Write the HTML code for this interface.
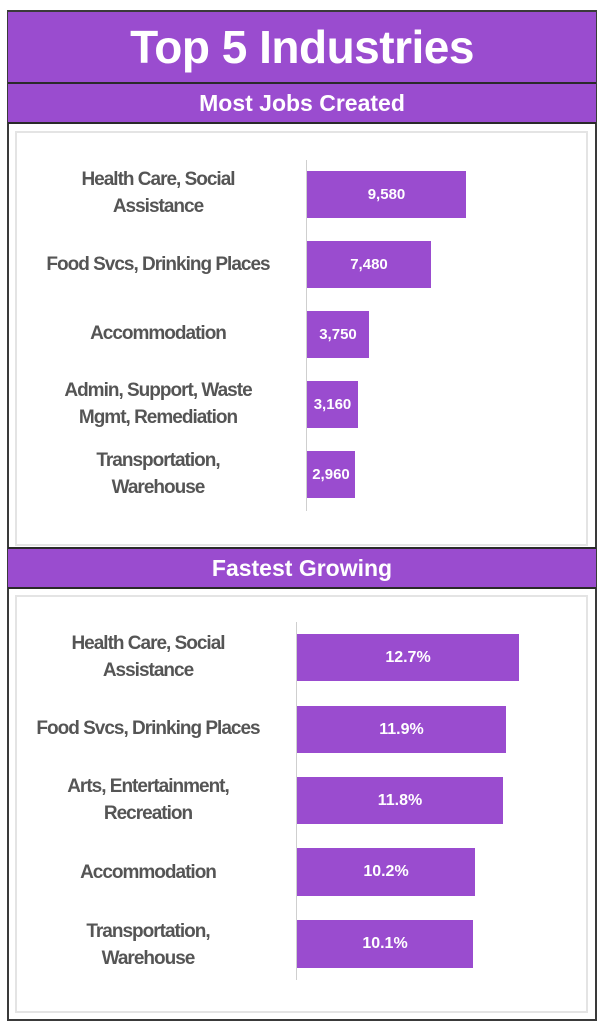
<!DOCTYPE html>
<html><head><style>
body{margin:0;width:603px;height:1024px;background:#fff;position:relative;font-family:"Liberation Sans",sans-serif;overflow:hidden}
div{position:absolute;box-sizing:border-box}
.band{background:#9a4ccf;color:#fff;text-align:center;font-weight:bold}
.box{border:2px solid #e4e4e4;background:#fff}
.lab{color:#555;font-weight:bold;font-size:19px;line-height:27px;text-align:center;letter-spacing:-1px}
.bar{background:#9a4ccf;color:#fff;font-weight:bold;font-size:15px;text-align:center;line-height:47px;overflow:hidden;white-space:nowrap}
.ax{background:#cfcfcf;width:1px}
</style></head><body>
<div style="left:7px;top:10px;width:590px;height:1011px;border:2px solid #3a3a3a"></div>
<div class="band" style="left:8px;top:12px;width:588px;height:70px;font-size:46px;line-height:70px;letter-spacing:-0.5px">Top 5 Industries</div>
<div style="left:8px;top:82px;width:588px;height:2px;background:#2a2a2a"></div>
<div class="band" style="left:8px;top:84px;width:588px;height:38px;font-size:23px;line-height:38px">Most Jobs Created</div>
<div style="left:8px;top:122px;width:588px;height:2px;background:#2a2a2a"></div>
<div class="box" style="left:15px;top:131px;width:573px;height:415px"></div>
<div class="ax" style="left:306px;top:160px;height:351px"></div>
<div class="lab" style="left:18px;top:166px;width:280px">Health Care, Social<br>Assistance</div>
<div class="lab" style="left:18px;top:251px;width:280px">Food Svcs, Drinking Places</div>
<div class="lab" style="left:18px;top:320px;width:280px">Accommodation</div>
<div class="lab" style="left:18px;top:377px;width:280px">Admin, Support, Waste<br>Mgmt, Remediation</div>
<div class="lab" style="left:18px;top:447px;width:280px">Transportation,<br>Warehouse</div>
<div class="bar" style="left:307px;top:171px;width:159px;height:47px">9,580</div>
<div class="bar" style="left:307px;top:241px;width:124px;height:47px">7,480</div>
<div class="bar" style="left:307px;top:311px;width:62px;height:47px">3,750</div>
<div class="bar" style="left:307px;top:381px;width:51px;height:47px">3,160</div>
<div class="bar" style="left:307px;top:451px;width:48px;height:47px">2,960</div>
<div style="left:8px;top:547px;width:588px;height:2px;background:#2a2a2a"></div>
<div class="band" style="left:8px;top:549px;width:588px;height:38px;font-size:23px;line-height:38px">Fastest Growing</div>
<div style="left:8px;top:587px;width:588px;height:2px;background:#2a2a2a"></div>
<div class="box" style="left:15px;top:595px;width:573px;height:418px"></div>
<div class="ax" style="left:296px;top:622px;height:358px"></div>
<div class="lab" style="left:8px;top:630px;width:280px">Health Care, Social<br>Assistance</div>
<div class="lab" style="left:8px;top:715px;width:280px">Food Svcs, Drinking Places</div>
<div class="lab" style="left:8px;top:773px;width:280px">Arts, Entertainment,<br>Recreation</div>
<div class="lab" style="left:8px;top:859px;width:280px">Accommodation</div>
<div class="lab" style="left:8px;top:918px;width:280px">Transportation,<br>Warehouse</div>
<div class="bar" style="left:297px;top:634px;width:222px;height:47px;font-size:16px">12.7%</div>
<div class="bar" style="left:297px;top:706px;width:209px;height:47px;font-size:16px">11.9%</div>
<div class="bar" style="left:297px;top:777px;width:206px;height:47px;font-size:16px">11.8%</div>
<div class="bar" style="left:297px;top:848px;width:178px;height:48px;font-size:16px">10.2%</div>
<div class="bar" style="left:297px;top:920px;width:176px;height:48px;font-size:16px">10.1%</div>
</body></html>
